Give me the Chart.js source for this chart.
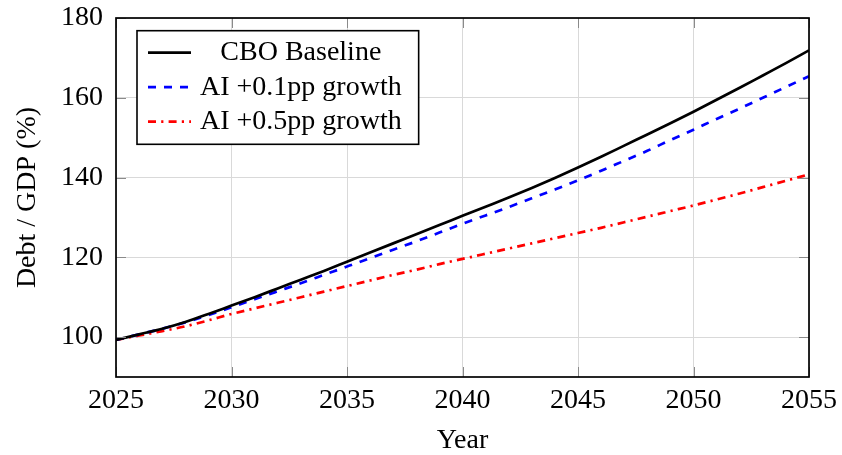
<!DOCTYPE html>
<html>
<head>
<meta charset="utf-8">
<script src="https://cdn.jsdelivr.net/npm/chart.js@4"></script>
<style>
  html, body { margin: 0; padding: 0; background: #ffffff; }
  #wrap { width: 842px; height: 455px; }
</style>
</head>
<body>
<div id="wrap"><canvas id="c" width="842" height="455"></canvas></div>
<script>
// ---- data ----
const years = [2025,2026,2027,2028,2029,2030,2031,2032,2033,2034,2035,2036,2037,2038,2039,2040,
               2041,2042,2043,2044,2045,2046,2047,2048,2049,2050,2051,2052,2053,2054,2055];
const cboBaseline = [99.3,100.7,102.1,103.8,105.8,107.9,110.0,112.2,114.4,116.6,118.9,121.2,123.5,125.8,128.1,130.4,
                     132.7,135.0,137.4,139.9,142.5,145.2,148.0,150.8,153.6,156.5,159.5,162.5,165.6,168.7,171.9];
const ai01 = [99.3,100.7,102.1,103.7,105.5,107.5,109.5,111.5,113.5,115.6,117.7,119.8,121.9,124.0,126.2,128.4,
              130.5,132.6,134.8,137.0,139.3,141.7,144.2,146.7,149.4,152.0,154.7,157.3,160.0,162.7,165.4];
const ai05 = [99.3,100.4,101.5,102.7,104.2,105.8,107.2,108.6,110.0,111.4,112.8,114.2,115.6,116.9,118.3,119.6,
              120.9,122.2,123.5,124.8,126.1,127.4,128.8,130.2,131.6,133.0,134.5,136.0,137.6,139.2,140.8];
const seriesLabels = ['CBO Baseline', 'AI +0.1pp growth', 'AI +0.5pp growth'];
const xTickValues = [2025,2030,2035,2040,2045,2050,2055];
const yTickValues = [100,120,140,160,180];
const xTitle = 'Year';
const yTitle = 'Debt / GDP (%)';

const FONT = '"Liberation Serif", "DejaVu Serif", serif';
Chart.defaults.font.family = FONT;
Chart.defaults.font.size = 28;
Chart.defaults.color = '#000000';

const toPts = arr => years.map((yr, i) => ({x: yr, y: arr[i]}));

// inward tick marks + frame
const framePlugin = {
  id: 'frame',
  afterDatasetsDraw(chart) {
    const {ctx, chartArea: a, scales} = chart;
    ctx.save();
    ctx.strokeStyle = '#8a8a8a';
    ctx.lineWidth = 1;
    const L = 10;
    scales.y.ticks.forEach(t => {
      const y = Math.round(scales.y.getPixelForValue(t.value)) + 0.5;
      ctx.beginPath();
      ctx.moveTo(a.left, y); ctx.lineTo(a.left + L, y);
      ctx.moveTo(a.right - L, y); ctx.lineTo(a.right, y);
      ctx.stroke();
    });
    scales.x.ticks.forEach(t => {
      const x = Math.round(scales.x.getPixelForValue(t.value)) + 0.5;
      ctx.beginPath();
      ctx.moveTo(x, a.bottom); ctx.lineTo(x, a.bottom - L);
      ctx.moveTo(x, a.top); ctx.lineTo(x, a.top + L);
      ctx.stroke();
    });
    ctx.strokeStyle = '#000000';
    ctx.lineWidth = 1.7;
    ctx.strokeRect(a.left, a.top, a.right - a.left, a.bottom - a.top);
    ctx.restore();
  }
};

// boxed legend with centred labels
const legendPlugin = {
  id: 'boxLegend',
  afterDraw(chart) {
    const {ctx, chartArea: a} = chart;
    const ds = chart.data.datasets;
    ctx.save();
    ctx.font = '28px ' + FONT;
    const textW = Math.max(...ds.map(d => ctx.measureText(d.label).width));
    const padL = 11, sample = 43, gap = 9, padR = 17, rowH = 34.5, padT = 22, padB = 22.6;
    const x0 = a.left + 21, y0 = a.top + 12.7;
    const w = padL + sample + gap + textW + padR;
    const h = padT + rowH * (ds.length - 1) + padB;
    ctx.fillStyle = '#ffffff';
    ctx.fillRect(x0, y0, w, h);
    ctx.strokeStyle = '#000000';
    ctx.lineWidth = 1.6;
    ctx.strokeRect(x0, y0, w, h);
    ds.forEach((d, i) => {
      const y = y0 + padT + rowH * i;
      ctx.beginPath();
      ctx.setLineDash(d.borderDash || []);
      ctx.strokeStyle = d.borderColor;
      ctx.lineWidth = d.borderWidth;
      ctx.moveTo(x0 + padL, y);
      ctx.lineTo(x0 + padL + sample, y);
      ctx.stroke();
      ctx.setLineDash([]);
      ctx.fillStyle = '#000000';
      ctx.textAlign = 'center';
      ctx.textBaseline = 'middle';
      ctx.fillText(d.label, x0 + padL + sample + gap + textW / 2, y);
    });
    ctx.restore();
  }
};

new Chart(document.getElementById('c'), {
  type: 'line',
  data: {
    datasets: [
      { label: seriesLabels[0], data: toPts(cboBaseline), borderColor: '#000000', borderWidth: 2.7,
        borderDash: [], pointRadius: 0, fill: false, cubicInterpolationMode: 'monotone' },
      { label: seriesLabels[1], data: toPts(ai01), borderColor: '#0000ff', borderWidth: 2.7,
        borderDash: [8, 8], pointRadius: 0, fill: false, cubicInterpolationMode: 'monotone' },
      { label: seriesLabels[2], data: toPts(ai05), borderColor: '#ff0000', borderWidth: 2.7,
        borderDash: [8, 5.2, 2.2, 5.2], pointRadius: 0, fill: false, cubicInterpolationMode: 'monotone' }
    ]
  },
  options: {
    responsive: false,
    animation: false,
    devicePixelRatio: 1,
    layout: { padding: { top: 18, right: 33, bottom: 0, left: 0 } },
    plugins: { legend: { display: false }, tooltip: { enabled: false } },
    scales: {
      x: {
        type: 'linear', min: 2025, max: 2055,
        afterBuildTicks: s => { s.ticks = xTickValues.map(v => ({value: v})); },
        afterFit: s => { s.height = 78; s.paddingLeft = 0; s.paddingRight = 0; },
        ticks: { padding: 7, maxRotation: 0, autoSkip: false, callback: v => String(v), font: { size: 28 } },
        grid: { color: '#d9d9d9', lineWidth: 1, drawTicks: false },
        border: { display: false },
        title: { display: true, text: xTitle, font: { size: 28, lineHeight: 1 }, padding: { top: 0, bottom: 0 } }
      },
      y: {
        type: 'linear', min: 90, max: 180,
        afterBuildTicks: s => { s.ticks = yTickValues.map(v => ({value: v})); },
        afterFit: s => { s.width = 116; s.paddingTop = 0; s.paddingBottom = 0; },
        ticks: { padding: 13, callback: v => String(v), font: { size: 28 } },
        grid: { color: '#d9d9d9', lineWidth: 1, drawTicks: false },
        border: { display: false },
        title: { display: true, text: yTitle, font: { size: 28, lineHeight: 1.2 }, padding: { top: 11, bottom: 0 } }
      }
    }
  },
  plugins: [framePlugin, legendPlugin]
});
</script>
</body>
</html>
